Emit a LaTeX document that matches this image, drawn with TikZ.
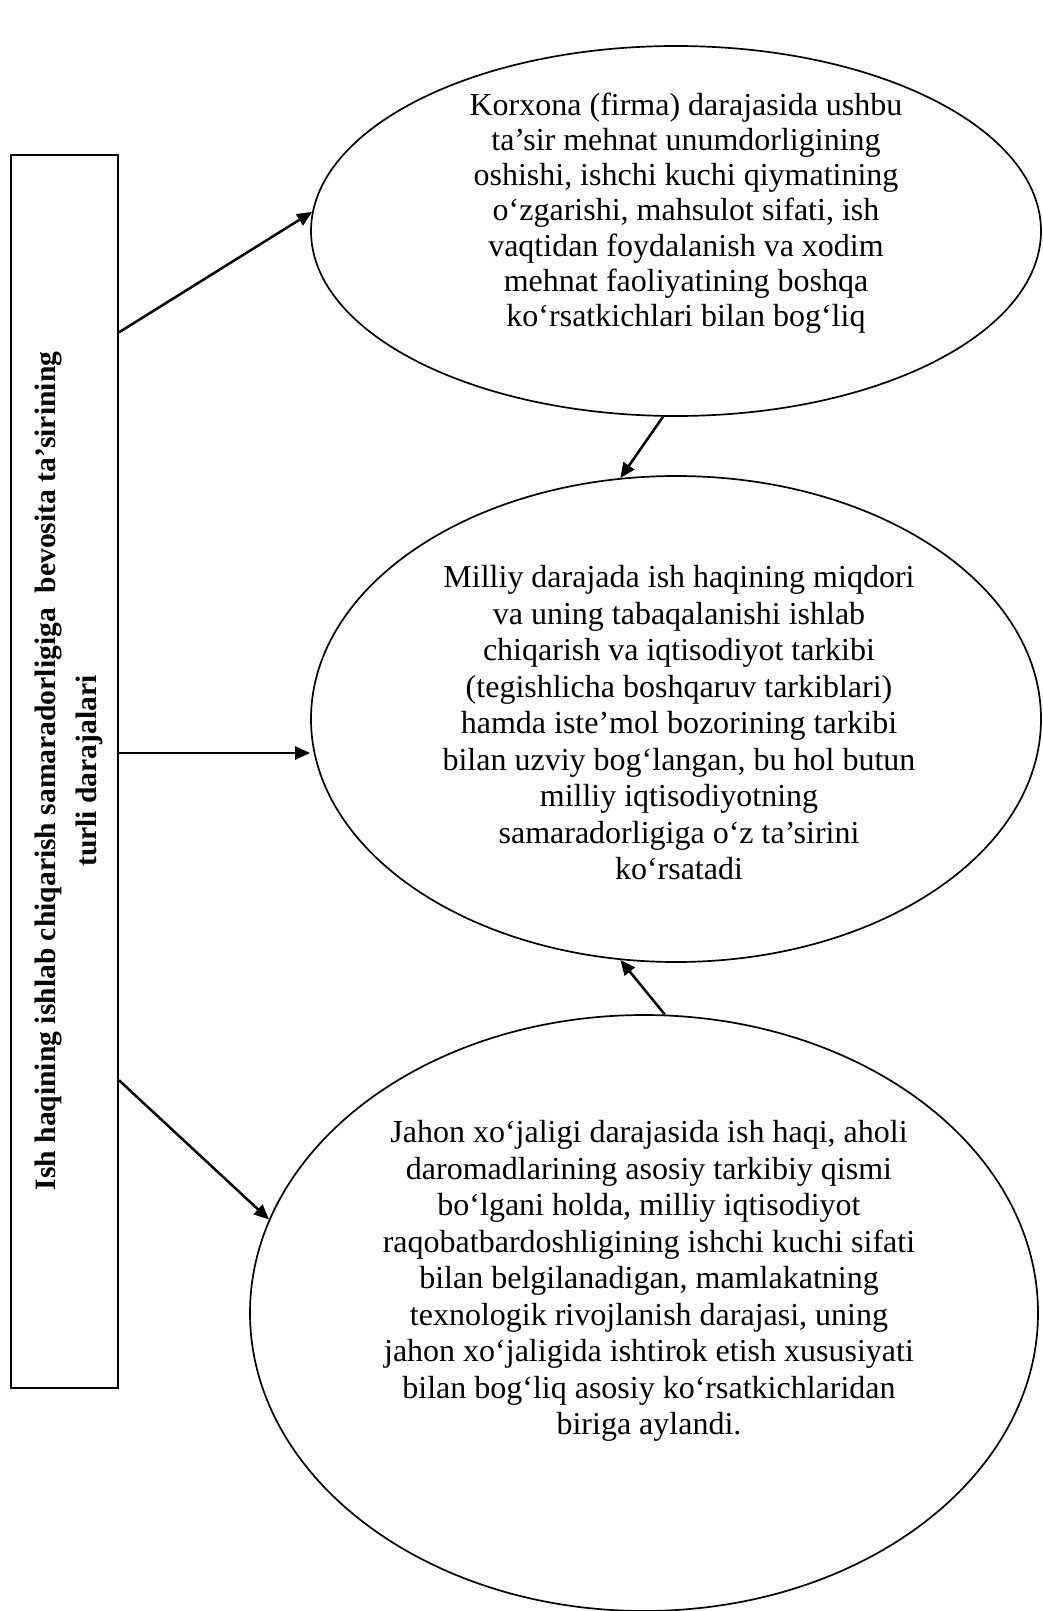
\documentclass[tikz,border=0pt]{standalone}
\usepackage{fontspec}
\setmainfont{Liberation Serif}
\usetikzlibrary{shapes.geometric,arrows.meta,calc}
\tikzset{
  oval/.style={draw, ellipse, line width=0.85pt, inner sep=0pt},
  matn/.style={align=center, inner sep=0pt, font=\fontsize{16}{18.25}\selectfont},
  strelka/.style={-{Triangle[length=7.5pt,width=6.5pt]}, line width=1.25pt},
}
\begin{document}
\begin{tikzpicture}[x=0.5pt, y=-0.5pt]
        \useasboundingbox (0,0) rectangle (1043,1611);
        \node[draw, line width=1pt, inner sep=0pt, minimum width=53.5pt, minimum height=616.5pt] (quti) at (64.5,771.5) {};
        \node[matn, rotate=90, font=\fontsize{14.8}{20.5}\selectfont\bfseries] (sarlavha) at (69,771)
            {Ish haqining ishlab chiqarish samaradorligiga\ \ bevosita ta’sirining\\turli darajalari};

        \node[oval, minimum width=365pt, minimum height=185pt] (korxona) at (676,231) {};
        \node[matn, font=\fontsize{16}{17.6}\selectfont] (korxona-matn) at (686,213) {Korxona (firma) darajasida ushbu\\
            ta’sir mehnat unumdorligining\\oshishi, ishchi kuchi qiymatining\\
            o‘zgarishi, mahsulot sifati, ish\\vaqtidan foydalanish va xodim\\
            mehnat faoliyatining boshqa\\ko‘rsatkichlari bilan bog‘liq};

        \node[oval, minimum width=365pt, minimum height=243pt] (milliy) at (676,719) {};
        \node[matn] (milliy-matn) at (679,723) {Milliy darajada ish haqining miqdori\\
            va uning tabaqalanishi ishlab\\chiqarish va iqtisodiyot tarkibi\\
            (tegishlicha boshqaruv tarkiblari)\\hamda iste’mol bozorining tarkibi\\
            bilan uzviy bog‘langan, bu hol butun\\milliy iqtisodiyotning\\
            samaradorligiga o‘z ta’sirini\\ko‘rsatadi};

        \node[oval, minimum width=394pt, minimum height=298pt] (jahon) at (644,1313) {};
        \node[matn] (jahon-matn) at (649,1281) {Jahon xo‘jaligi darajasida ish haqi, aholi\\
            daromadlarining asosiy tarkibiy qismi\\bo‘lgani holda, milliy iqtisodiyot\\
            raqobatbardoshligining ishchi kuchi sifati\\bilan belgilanadigan, mamlakatning\\
            texnologik rivojlanish darajasi, uning\\jahon xo‘jaligida ishtirok etish xususiyati\\
            bilan bog‘liq asosiy ko‘rsatkichlaridan\\biriga aylandi.};

        \coordinate (q1) at ($(quti.north east)!0.1444!(quti.south east)$);
        \coordinate (q2) at ($(quti.north east)!0.485!(quti.south east)$);
        \coordinate (q3) at ($(quti.north east)!0.750!(quti.south east)$);
        \draw[strelka] (q1) -- (korxona.177);
        \draw[strelka] (q2) -- (q2 -| milliy.west);
        \draw[strelka] (q3) -- (jahon.166);
        \draw[strelka] (korxona.266) -- (milliy.103);
        \draw[strelka] (jahon.86) -- (milliy.257);
    \end{tikzpicture}
\end{document}
